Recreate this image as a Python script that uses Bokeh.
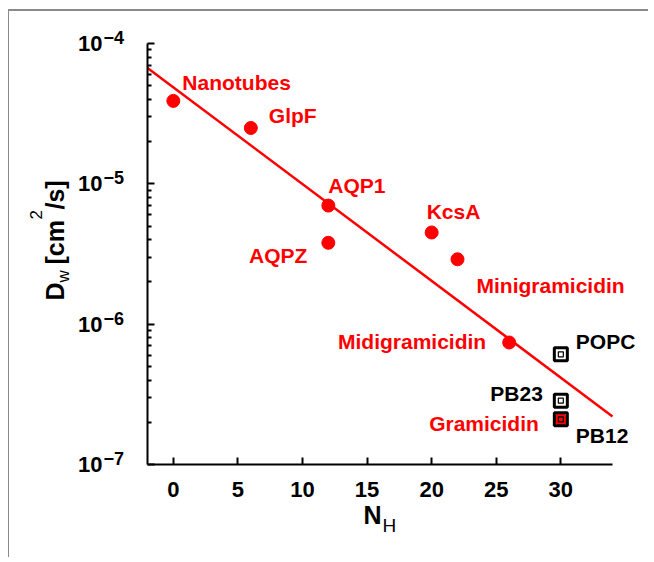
import math
from bokeh.plotting import figure
from bokeh.models import Label, LabelSet, FixedTicker, Range1d, ColumnDataSource
from bokeh.core.properties import value
from bokeh.embed import file_html
from bokeh.resources import INLINE

# ---------------- data ----------------
channels = ["Nanotubes", "GlpF", "AQP1", "AQPZ", "KcsA",
            "Minigramicidin", "Midigramicidin", "Gramicidin"]
channel_nh = [0, 6, 12, 12, 20, 22, 26, 30]
channel_dw = [3.9e-5, 2.5e-5, 7.0e-6, 3.8e-6, 4.5e-6, 2.9e-6, 7.4e-7, 2.1e-7]

membranes = ["POPC", "PB23", "PB12"]
membrane_nh = [30, 30, 30]
membrane_dw = [6.1e-7, 2.85e-7, 2.1e-7]

fit_nh = [-2, 34]
fit_dw = [6.7e-5, 2.2e-7]

x_ticks = [0, 5, 10, 15, 20, 25, 30]
x_limits = [-2, 34]
y_exponents = [-4, -5, -6, -7]
y_limits = [1e-7, 1e-4]
minor_mantissas = [2, 3, 4, 5, 6, 7, 8, 9]

# ---------------- styling / layout ----------------
FONT = "Liberation Sans"
RED = "#ff0000"

# label placement (screen px, right / down) and alignment
ch_dx = [9, 18, 0, -21, -5, 19, -23, -22]
ch_dy = [-11, -5, -13, 20, -13, 34, 6, 12]
ch_align = ["left", "left", "left", "right", "left", "left", "right", "right"]
mb_dx = [15, -18, 15]
mb_dy = [-5, 0, 24]
mb_align = ["left", "right", "left"]

W, H = 640, 548
CANVAS_X0, CANVAS_Y0 = 9, 11                 # page position of the canvas
AX_L, AX_R, AX_T, AX_B = 147, 612, 43, 464   # page position of the axes box

# extend the ranges so the axes box lands at the wanted pixels while the
# frame covers the whole canvas (so no annotation is clipped)
xpp = (x_limits[1] - x_limits[0]) / (AX_R - AX_L)
x0 = x_limits[0] - (AX_L - CANVAS_X0) * xpp
x1 = x_limits[1] + (CANVAS_X0 + W - AX_R) * xpp
lo, hi = math.log10(y_limits[0]), math.log10(y_limits[1])
ypp = (hi - lo) / (AX_B - AX_T)
ltop = hi + (AX_T - CANVAS_Y0) * ypp
y1 = 10 ** ltop
y0 = 10 ** (lo - (CANVAS_Y0 + H - AX_B) * ypp)

def page_to_data(px, py):
    return x0 + (px - CANVAS_X0) * xpp, 10 ** (ltop - (py - CANVAS_Y0) * ypp)

p = figure(width=W, height=H, output_backend="svg", toolbar_location=None,
           x_range=Range1d(x0, x1), y_range=Range1d(y0, y1),
           y_axis_type="log",
           min_border_left=0, min_border_top=0,
           min_border_right=0, min_border_bottom=0)
p.styles = {"border-top": "2px solid #8a8a8a", "border-left": "1px solid #8a8a8a",
            "margin-top": "9px", "margin-left": "8px"}
p.outline_line_color = None
p.xgrid.visible = False
p.ygrid.visible = False
p.background_fill_color = "white"
p.border_fill_color = "white"

# x axis
xa = p.xaxis[0]
xa.fixed_location = y_limits[0]
xa.bounds = tuple(x_limits)
xa.ticker = FixedTicker(ticks=x_ticks)
xa.axis_line_width = 2
xa.axis_line_color = "black"
xa.major_tick_in = 7
xa.major_tick_out = 0
xa.major_tick_line_width = 2
xa.minor_tick_line_color = None
xa.major_label_standoff = 17
xa.major_label_text_font = FONT
xa.major_label_text_font_size = "22px"
xa.major_label_text_font_style = "bold"
xa.major_label_text_color = "black"

# y axis
ya = p.yaxis[0]
ya.fixed_location = x_limits[0]
ya.bounds = tuple(y_limits)
y_major = [10.0 ** e for e in y_exponents]
y_minor = [m * 10.0 ** e for e in y_exponents[1:] for m in minor_mantissas]
ya.ticker = FixedTicker(ticks=y_major, minor_ticks=y_minor)
ya.axis_line_width = 2
ya.axis_line_color = "black"
ya.major_tick_in = 7
ya.major_tick_out = 0
ya.major_tick_line_width = 2
ya.minor_tick_in = 4
ya.minor_tick_out = 0
ya.minor_tick_line_width = 2
ya.minor_tick_line_color = "black"
ya.major_label_overrides = {10.0 ** e: "10" for e in y_exponents}
ya.major_label_standoff = 45
ya.major_label_text_font = FONT
ya.major_label_text_font_size = "22px"
ya.major_label_text_font_style = "bold"
ya.major_label_text_color = "black"

# exponents of the y tick labels
for e in y_exponents:
    p.add_layout(Label(x=103 - CANVAS_X0, x_units="screen", y=10.0 ** e, y_units="data",
                       text="\u2212%d" % abs(e), text_font=FONT,
                       text_font_size="18px", text_font_style="bold",
                       text_align="left", text_baseline="middle",
                       y_offset=6, text_color="black"))

# fit line
p.line(fit_nh, fit_dw, line_color=RED, line_width=2.5)

# channel points
p.scatter(channel_nh, channel_dw, marker="circle", size=13,
          fill_color=RED, line_color=RED)

# membrane points
mb_fill = ["white", "white", None]
p.scatter(membrane_nh, membrane_dw, marker="square", size=13,
          fill_color=mb_fill, line_color="black", line_width=3)
p.scatter(membrane_nh, membrane_dw, marker="square", size=5,
          fill_color=None, line_color="black", line_width=1.2)

def add_labels(names, xs, ys, dxs, dys, aligns, color):
    for align in ("left", "right"):
        idx = [i for i, a in enumerate(aligns) if a == align]
        if not idx:
            continue
        src = ColumnDataSource(dict(
            x=[xs[i] for i in idx], y=[ys[i] for i in idx],
            name=[names[i] for i in idx],
            dx=[dxs[i] for i in idx], dy=[-dys[i] for i in idx]))
        p.add_layout(LabelSet(x="x", y="y", text="name", source=src,
                              x_offset="dx", y_offset="dy",
                              text_align=align, text_baseline="alphabetic",
                              text_font=value(FONT), text_font_size="21px",
                              text_font_style="bold", text_color=color))

add_labels(channels, channel_nh, channel_dw, ch_dx, ch_dy, ch_align, RED)
add_labels(membranes, membrane_nh, membrane_dw, mb_dx, mb_dy, mb_align, "black")

# ---- axis titles composed from pieces (sub/superscripts) ----
# (px, py) = wanted page position of the glyph baseline start; the text glyph
# anchor sits about 0.36 em above the baseline in this renderer.
def title_piece(txt, px, py, fs, st, angle=0.0):
    shift = 0.36 * fs
    if angle:
        px -= shift
    else:
        py -= shift
    x, y = page_to_data(px, py)
    p.text([x], [y], text=[txt], angle=angle, text_font=value(FONT),
           text_font_size="%dpx" % fs, text_font_style=st, text_color="black",
           text_align="left", text_baseline="alphabetic")

title_piece("N", 363, 523, 25, "bold")
title_piece("H", 382, 532, 19, "normal")

ang = math.pi / 2
title_piece("D", 63, 300, 25, "bold", ang)
title_piece("w", 69, 282, 17, "normal", ang)
title_piece("[cm", 63, 264, 25, "bold", ang)
title_piece("2", 42, 219, 17, "normal", ang)
title_piece("/s]", 63, 209, 25, "bold", ang)

open("out.html", "w").write(file_html(p, INLINE))
